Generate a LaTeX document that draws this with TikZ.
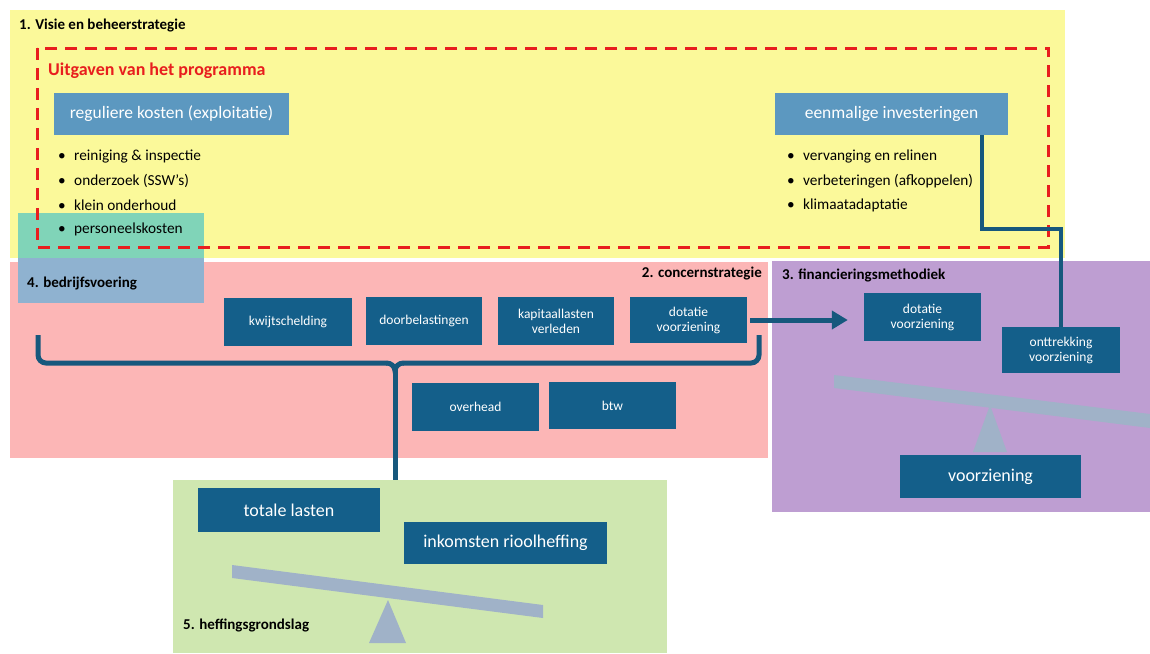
\documentclass[tikz,border=0pt]{standalone}
\usepackage{fontspec}
\setmainfont{Carlito}
\usetikzlibrary{arrows.meta}
\definecolor{ylw}{RGB}{251,249,154}
\definecolor{pnk}{RGB}{252,182,182}
\definecolor{prp}{RGB}{190,158,210}
\definecolor{grn}{RGB}{207,231,176}
\definecolor{dblue}{RGB}{20,95,138}
\definecolor{lblue}{RGB}{92,152,192}
\definecolor{lnblue}{RGB}{22,88,125}
\definecolor{beam}{RGB}{160,178,200}
\definecolor{teal}{RGB}{128,212,184}
\definecolor{bgrey}{RGB}{143,178,208}
\definecolor{dred}{RGB}{232,30,30}
\tikzset{
  dbox/.style={draw=none, fill=dblue, text=white, align=center, inner sep=0pt, font=\fontsize{13.5}{15}\selectfont},
  bigbox/.style={dbox, font=\fontsize{18}{20}\selectfont},
  lbox/.style={draw=none, fill=lblue, text=white, align=center, inner sep=0pt, font=\fontsize{17.5}{20}\selectfont},
  sect/.style={inner sep=0pt, font=\bfseries\fontsize{15}{17}\selectfont},
  bul/.style={inner sep=0pt, anchor=west, font=\fontsize{15.3}{17}\selectfont},
  conn/.style={draw=lnblue, line width=5pt},
}
\newcommand{\bl}[1]{\makebox[16pt][l]{•}#1}
\begin{document}
\begin{tikzpicture}[x=1pt,y=-1pt]
\useasboundingbox (0,0) rectangle (1150,653);
\fill[white] (0,0) rectangle (1150,653);
% regions
\fill[ylw] (10,10) rectangle (1065,258);
\fill[pnk] (10,262) rectangle (768,458);
\fill[prp] (772,261) rectangle (1150,512);
\fill[grn] (173,480) rectangle (667,653);
% bedrijfsvoering box
\fill[bgrey] (18,213) rectangle (204,303);
\fill[teal] (18,213) rectangle (204,258);
% dashed programme box
\draw[dred, line width=3pt, dash pattern=on 12pt off 8pt] (37,48) rectangle (1048,247);
% section labels
\node[sect, anchor=west] (s1) at (19,26) {1. Visie en beheerstrategie};
\node[inner sep=0pt, anchor=west, text=dred, font=\bfseries\fontsize{18}{20}\selectfont] (prog) at (48,71) {Uitgaven van het programma};
\node[sect, anchor=east] (s2) at (762,274) {2. concernstrategie};
\node[sect, anchor=west] (s3) at (782,275) {3. financieringsmethodiek};
\node[sect, anchor=west] (s4) at (27,284) {4. bedrijfsvoering};
\node[sect, anchor=west] (s5) at (183,625) {5. heffingsgrondslag};
% programme boxes
\node[lbox, minimum width=235pt, minimum height=42pt] (reg) at (171.5,114) {reguliere kosten (exploitatie)};
\node[lbox, minimum width=233pt, minimum height=42pt] (eenm) at (891.5,114) {eenmalige investeringen};
\node[bul] (b1) at (58,157) {\bl{reiniging \& inspectie}};
\node[bul] (b2) at (58,181) {\bl{onderzoek (SSW’s)}};
\node[bul] (b3) at (58,205) {\bl{klein onderhoud}};
\node[bul] (b4) at (58,229) {\bl{personeelskosten}};
\node[bul] (c1) at (787,157) {\bl{vervanging en relinen}};
\node[bul] (c2) at (787,181) {\bl{verbeteringen (afkoppelen)}};
\node[bul] (c3) at (787,205) {\bl{klimaatadaptatie}};
% concern boxes
\node[dbox, minimum width=128pt, minimum height=48pt] (kw) at (288,322) {kwijtschelding};
\node[dbox, minimum width=116pt, minimum height=48pt] (db) at (424,321) {doorbelastingen};
\node[dbox, minimum width=116pt, minimum height=48pt] (kap) at (556,321) {kapitaallasten\\verleden};
\node[dbox, minimum width=117pt, minimum height=46pt] (pd) at (688.5,320) {dotatie\\voorziening};
\node[dbox, minimum width=127pt, minimum height=48pt] (ov) at (475.5,407) {overhead};
\node[dbox, minimum width=127pt, minimum height=47pt] (btw) at (612.5,405.5) {btw};
% financiering
\node[dbox, minimum width=117pt, minimum height=48pt] (qd) at (922.5,317) {dotatie\\voorziening};
\node[dbox, minimum width=118pt, minimum height=46pt] (ontt) at (1061,350) {onttrekking\\voorziening};
\fill[beam] (834,375) -- (1150,414) -- (1150,428) -- (834,388) -- cycle;
\fill[beam] (990,405) -- (1007,452) -- (973,452) -- cycle;
\node[bigbox, minimum width=181pt, minimum height=43pt] (voorz) at (990.5,476.5) {voorziening};
% heffing
\node[bigbox, minimum width=182pt, minimum height=44pt] (tot) at (289,510) {totale lasten};
\node[bigbox, minimum width=203pt, minimum height=42pt] (ink) at (505.5,543) {inkomsten rioolheffing};
\fill[beam] (232,565) -- (543,605) -- (543,618) -- (232,578) -- cycle;
\fill[beam] (388,600) -- (406,643) -- (369,643) -- cycle;
% connectors
\coordinate (t1) at (982,229);
\draw[draw=lnblue, line width=4pt] (eenm.south -| t1) -- (t1) -| (ontt.north);
\draw[conn, -{Triangle[length=16pt,width=18pt]}, shorten <=3pt, shorten >=16pt] (pd.east) -- (pd.east -| qd.west);
\coordinate (bl) at (38,335);
\coordinate (br) at (759,335);
\coordinate (bm) at (395,363);
\coordinate (bt) at (395,480);
\draw[conn, rounded corners=8pt] (bl) -- (bl |- bm) -- ([xshift=-8pt]bm);
\draw[conn, rounded corners=8pt] (br) -- (br |- bm) -- ([xshift=8pt]bm);
\draw[conn] ([xshift=-8.5pt]bm) to[out=0,in=90] ([yshift=-8pt]bm) to[out=90,in=180] ([xshift=8.5pt]bm);
\draw[conn] ([yshift=-7pt]bm) -- (bt);
\end{tikzpicture}
\end{document}
